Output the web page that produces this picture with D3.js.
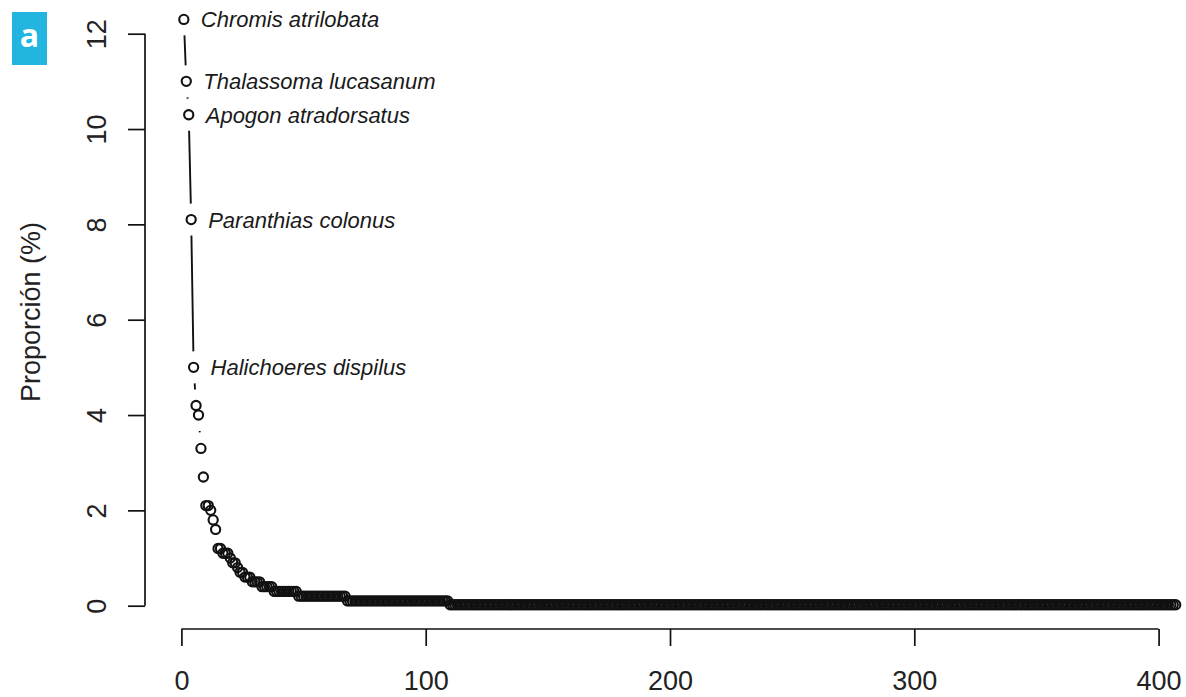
<!DOCTYPE html>
<html>
<head>
<meta charset="utf-8">
<script src="https://cdn.jsdelivr.net/npm/d3@7"></script>
<style>
  html, body { margin: 0; padding: 0; background: #fff; }
  svg { display: block; }
</style>
</head>
<body>
<svg id="chart" width="1186" height="697"></svg>
<script>
// Rank–abundance of fish species: proportion (%) of each species, ranked.
const speciesNames = [
  "Chromis atrilobata",
  "Thalassoma lucasanum",
  "Apogon atradorsatus",
  "Paranthias colonus",
  "Halichoeres dispilus"
];

// Proportions of the 47 most abundant species, in rank order.
const headProportion = [
  12.3, 11.0, 10.3, 8.1, 5.0, 4.2, 4.0, 3.3, 2.7, 2.1,
  2.1, 2.0, 1.8, 1.6, 1.2, 1.2, 1.1, 1.1, 1.1, 1.0,
  0.9, 0.9, 0.8, 0.7, 0.7, 0.6, 0.6, 0.6, 0.5, 0.5,
  0.5, 0.5, 0.4, 0.4, 0.4, 0.4, 0.4, 0.3, 0.3, 0.3,
  0.3, 0.3, 0.3, 0.3, 0.3, 0.3, 0.3
];

// Rarer species share a few proportion levels: level value and number of species.
const tailLevels = [0.2, 0.1, 0.02];
const tailCounts = [20, 42, 298];

const xTicks = [0, 100, 200, 300, 400];
const yTicks = [0, 2, 4, 6, 8, 10, 12];
const yTitle = "Proporción (%)";
const panelTag = "a";

// Expand the runs into one proportion per rank.
const proportion = headProportion.slice();
tailLevels.forEach((v, i) => {
  for (let k = 0; k < tailCounts[i]; k++) proportion.push(v);
});
const data = proportion.map((p, i) => ({ rank: i + 1, p }));

const svg = d3.select("#chart");
const ink = "#111";

const x = d3.scaleLinear().domain([0, 400]).range([181.4, 1158.6]);
const y = d3.scaleLinear().domain([0, 12]).range([605.7, 33.7]);

const axisFont = "'Liberation Sans', Arial, Helvetica, sans-serif";

// Y axis
const yAxisX = 145;
const gy = svg.append("g")
  .attr("transform", `translate(${yAxisX},0)`)
  .call(d3.axisLeft(y).tickValues(yTicks).tickSize(17).tickFormat(d3.format("d")));
gy.select(".domain").remove();
gy.append("line")
  .attr("x1", 0).attr("x2", 0)
  .attr("y1", y(yTicks[0])).attr("y2", y(yTicks[yTicks.length - 1]))
  .attr("stroke", ink).attr("stroke-width", 1.7);
gy.selectAll(".tick line").attr("stroke", ink).attr("stroke-width", 1.7);
gy.selectAll(".tick text")
  .attr("transform", "rotate(-90)")
  .attr("x", 0).attr("y", -39).attr("dy", null)
  .attr("text-anchor", "middle")
  .attr("fill", "#222")
  .style("font-family", axisFont).style("font-size", "27px");

// X axis
const xAxisY = 629;
const gx = svg.append("g")
  .attr("transform", `translate(0,${xAxisY})`)
  .call(d3.axisBottom(x).tickValues(xTicks).tickSize(17).tickFormat(d3.format("d")));
gx.select(".domain").remove();
gx.append("line")
  .attr("x1", x(xTicks[0])).attr("x2", x(xTicks[xTicks.length - 1]))
  .attr("y1", 0).attr("y2", 0)
  .attr("stroke", ink).attr("stroke-width", 1.7);
gx.selectAll(".tick line").attr("stroke", ink).attr("stroke-width", 1.7);
gx.selectAll(".tick text")
  .attr("y", 61).attr("dy", null)
  .attr("fill", "#222")
  .style("font-family", axisFont).style("font-size", "27px");

// Y title
svg.append("text")
  .attr("transform", `translate(40,312) rotate(-90)`)
  .attr("text-anchor", "middle")
  .attr("fill", "#222")
  .style("font-family", axisFont).style("font-size", "27px")
  .text(yTitle);

// Connecting segments between consecutive points, leaving a gap around each marker
const gap = 16;
const segs = [];
for (let i = 0; i < data.length - 1; i++) {
  const x0 = x(data[i].rank), y0 = y(data[i].p);
  const x1 = x(data[i + 1].rank), y1 = y(data[i + 1].p);
  const dx = x1 - x0, dy = y1 - y0;
  const len = Math.hypot(dx, dy);
  if (len > 2 * gap) {
    const ux = dx / len, uy = dy / len;
    segs.push({ x1: x0 + ux * gap, y1: y0 + uy * gap, x2: x1 - ux * gap, y2: y1 - uy * gap });
  }
}
svg.append("g").selectAll("line").data(segs).join("line")
  .attr("x1", d => d.x1).attr("y1", d => d.y1)
  .attr("x2", d => d.x2).attr("y2", d => d.y2)
  .attr("stroke", ink).attr("stroke-width", 1.9);

// Open circle markers
svg.append("g").selectAll("circle").data(data).join("circle")
  .attr("cx", d => x(d.rank))
  .attr("cy", d => y(d.p))
  .attr("r", 4.6)
  .attr("fill", "none")
  .attr("stroke", ink)
  .attr("stroke-width", 2.1);

// Species names next to the dominant species
svg.append("g").selectAll("text").data(speciesNames).join("text")
  .attr("x", (d, i) => x(data[i].rank) + 17)
  .attr("y", (d, i) => y(data[i].p))
  .attr("dy", "0.36em")
  .attr("fill", "#1a1a1a")
  .style("font-family", axisFont)
  .style("font-style", "italic")
  .style("font-size", "22px")
  .text(d => d);

// Panel tag
svg.append("rect")
  .attr("x", 12).attr("y", 12).attr("width", 35).attr("height", 53)
  .attr("fill", "#22b5e0");
svg.append("text")
  .attr("x", 29.5).attr("y", 47)
  .attr("text-anchor", "middle")
  .attr("fill", "#fff")
  .style("font-family", "'Open Sans', 'Noto Sans', sans-serif")
  .style("font-weight", "700")
  .style("font-size", "32px")
  .text(panelTag);
</script>
</body>
</html>
